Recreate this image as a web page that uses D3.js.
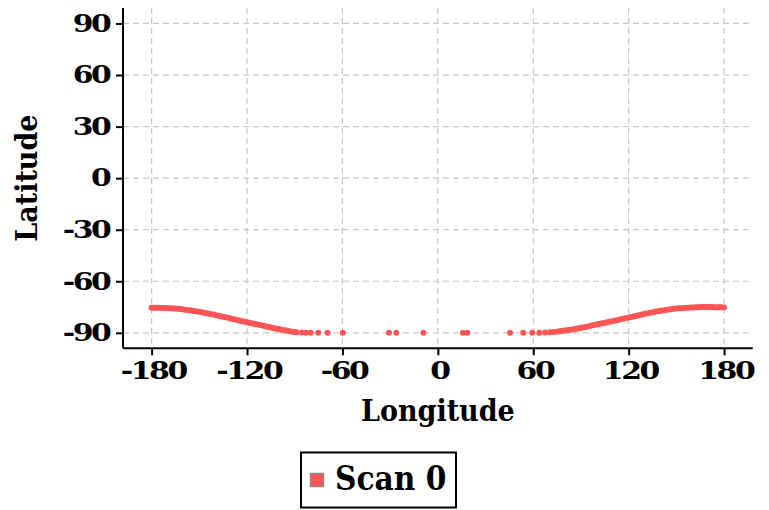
<!DOCTYPE html>
<html>
<head>
<meta charset="utf-8">
<script src="https://cdn.jsdelivr.net/npm/d3@7"></script>
<style>
  html, body { margin: 0; padding: 0; background: #fff; }
  svg { display: block; }
  text { font-family: "DejaVu Serif Condensed", "DejaVu Serif", serif; font-stretch: condensed; font-weight: bold; fill: #000; }
  .tick text { font-family: "DejaVu Serif", serif; font-stretch: normal; letter-spacing: -2px; }
</style>
</head>
<body>
<svg id="chart" width="769" height="510"></svg>
<script>
// ---- data ----
const seriesName = "Scan 0";
const longitude = [
  -180, -178.5, -177, -175.5, -174, -172.5, -171, -169.5, -168, -166.5, -165, -163.5, -162, -160.5, -159, -157.5,
  -156, -154.5, -153, -151.5, -150, -148.5, -147, -145.5, -144, -142.5, -141, -139.5, -138, -136.5, -135, -133.5,
  -132, -130.5, -129, -127.5, -126, -124.5, -123, -121.5, -120, -118.5, -117, -115.5, -114, -112.5, -111, -109.5,
  -108, -106.5, -105, -103.5, -102, -100.5, -99, -97.5, -96, -94.5, -93, -91.5, -90,
  -88.8, -85.6, -82.9, -80.0, -75.2, -69.3, -59.8, -30.7, -26.1, -9.1, 15.8, 18.5, 45.4, 53.7,
  59.4, 63.8, 67.4, 70.5, 72.6,
  75, 76.5, 78, 79.5, 81, 82.5, 84, 85.5, 87, 88.5, 90, 91.5, 93, 94.5, 96, 97.5, 99, 100.5, 102, 103.5,
  105, 106.5, 108, 109.5, 111, 112.5, 114, 115.5, 117, 118.5, 120, 121.5, 123, 124.5, 126, 127.5, 129, 130.5,
  132, 133.5, 135, 136.5, 138, 139.5, 141, 142.5, 144, 145.5, 147, 148.5, 150, 151.5, 153, 154.5, 156, 157.5,
  159, 160.5, 162, 163.5, 165, 166.5, 168, 169.5, 171, 172.5, 174, 175.5, 177, 178.5, 180
];
const latitude = [
  -75.4, -75.4, -75.4, -75.45, -75.5, -75.55, -75.6, -75.65, -75.7, -75.8, -75.9, -76.05, -76.2, -76.35, -76.5, -76.7,
  -76.9, -77.1, -77.3, -77.55, -77.8, -78.05, -78.3, -78.6, -78.85, -79.15, -79.4, -79.7, -80.0, -80.3, -80.6, -80.95,
  -81.25, -81.6, -81.9, -82.25, -82.55, -82.9, -83.2, -83.55, -83.85, -84.15, -84.45, -84.75, -85.05, -85.35, -85.65, -85.95,
  -86.25, -86.55, -86.85, -87.15, -87.45, -87.75, -88.0, -88.3, -88.55, -88.8, -89.05, -89.3, -89.5,
  -89.65, -89.8, -89.9, -89.95, -90, -90, -90, -90, -90, -90, -90, -90, -90, -90,
  -90, -89.95, -89.85, -89.7, -89.5,
  -89.3, -89.1, -88.9, -88.7, -88.5, -88.35, -88.1, -87.85, -87.6, -87.35, -87.1, -86.85, -86.55, -86.25, -85.95, -85.65, -85.35, -85.05, -84.75, -84.45,
  -84.15, -83.85, -83.55, -83.25, -82.95, -82.65, -82.35, -82.0, -81.7, -81.35, -81.05, -80.75, -80.45, -80.15, -79.85, -79.55, -79.25, -78.95,
  -78.65, -78.35, -78.05, -77.8, -77.5, -77.25, -77.0, -76.8, -76.6, -76.4, -76.2, -76.05, -75.9, -75.75, -75.65, -75.55, -75.45, -75.35,
  -75.25, -75.2, -75.1, -75.05, -75.0, -75.0, -75.0, -75.0, -75.0, -75.0, -75.05, -75.05, -75.1, -75.15, -75.2
];
const xTicks = [-180, -120, -60, 0, 60, 120, 180];
const yTicks = [-90, -60, -30, 0, 30, 60, 90];
const xDomain = [-198, 198];
const yDomain = [-99, 99];
const xTitle = "Longitude";
const yTitle = "Latitude";
const dotColor = "#ff5555";

// ---- drawing ----
const svg = d3.select("#chart");
const plot = { left: 123, right: 752.7, top: 8, bottom: 348.3 };

const x = d3.scaleLinear().domain(xDomain).range([plot.left, plot.right]);
const y = d3.scaleLinear().domain(yDomain).range([plot.bottom, plot.top]);

// grid
const grid = svg.append("g").attr("class", "grid");
grid.selectAll("line.v").data(xTicks).enter().append("line")
  .attr("x1", d => x(d)).attr("x2", d => x(d))
  .attr("y1", plot.top).attr("y2", plot.bottom)
  .attr("stroke", "#c8c8c8").attr("stroke-width", 1.2).attr("stroke-dasharray", "6,4");
grid.selectAll("line.h").data(yTicks).enter().append("line")
  .attr("x1", plot.left).attr("x2", plot.right - 4)
  .attr("y1", d => y(d)).attr("y2", d => y(d))
  .attr("stroke", "#c8c8c8").attr("stroke-width", 1.2).attr("stroke-dasharray", "6,4");

// points
const pts = longitude.map((lon, i) => ({ lon, lat: latitude[i] }));
svg.append("g").selectAll("circle").data(pts).enter().append("circle")
  .attr("cx", d => x(d.lon)).attr("cy", d => y(d.lat))
  .attr("r", 3).attr("fill", dotColor);

// axes
const fmt = d => String(d);
const xAxis = d3.axisBottom(x).tickValues(xTicks).tickSize(7).tickPadding(6).tickFormat(fmt);
const yAxis = d3.axisLeft(y).tickValues(yTicks).tickSize(7).tickPadding(9).tickFormat(fmt);

const gx = svg.append("g").attr("transform", `translate(0,${plot.bottom})`).call(xAxis);
const gy = svg.append("g").attr("transform", `translate(${plot.left},0)`).call(yAxis);
[gx, gy].forEach((g, gi) => {
  g.attr("font-family", null).attr("font-size", null);
  g.select(".domain").attr("stroke", "#000").attr("stroke-width", 2);
  g.selectAll(".tick line").attr("stroke", "#000").attr("stroke-width", 2);
  g.selectAll(".tick text").attr("font-size", 24.5).attr("fill", "#000")
    .each(function () {
      const t = d3.select(this);
      // compensate trailing letter-spacing so the anchor stays put
      const tx = (+t.attr("x") || 0) + (gi === 0 ? 1.2 : 2.4);
      const ty = +t.attr("y") || 0;
      t.attr("x", 0).attr("y", 0)
        .attr("transform", `translate(${tx},${ty}) scale(1.22,1)`);
    });
});
gx.select(".domain").attr("d", `M${plot.left},0H${plot.right}`);
gy.select(".domain").attr("d", `M0,${plot.top}V${plot.bottom}`);

// titles
svg.append("text").attr("x", (plot.left + plot.right) / 2).attr("y", 421)
  .attr("text-anchor", "middle").attr("font-size", 30).text(xTitle);
svg.append("text").attr("transform", `translate(37,${(plot.top + plot.bottom) / 2}) rotate(-90)`)
  .attr("text-anchor", "middle").attr("font-size", 30).text(yTitle);

// legend
const lg = svg.append("g");
lg.append("rect").attr("x", 301).attr("y", 452.5).attr("width", 155).attr("height", 55)
  .attr("fill", "#fff").attr("stroke", "#000").attr("stroke-width", 2);
lg.append("rect").attr("x", 310.5).attr("y", 473.5).attr("width", 13).attr("height", 13)
  .attr("fill", dotColor).attr("stroke", "#888").attr("stroke-width", 1.5);
lg.append("text").attr("x", 335).attr("y", 490).attr("font-size", 33).text(seriesName);
</script>
</body>
</html>
